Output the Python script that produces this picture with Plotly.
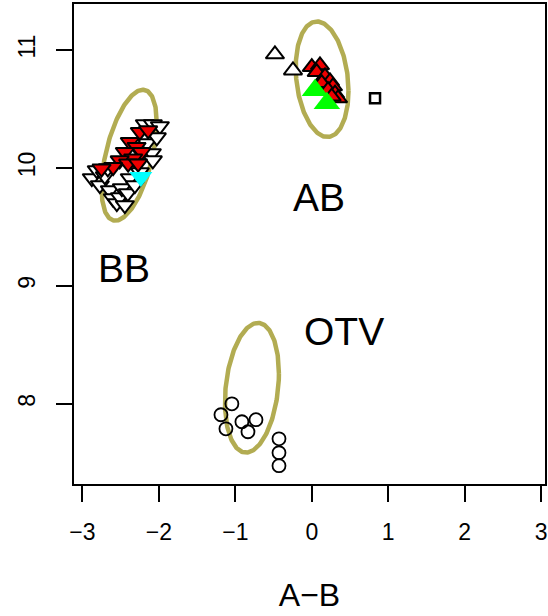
import numpy as np
import plotly.graph_objects as go

# ---- data ----
otv_x = [-1.045, -1.188, -1.123, -0.914, -0.730, -0.835, -0.429, -0.429, -0.429]
otv_y = [8.000, 7.907, 7.788, 7.848, 7.865, 7.763, 7.703, 7.585, 7.475]

ab_open_x = [-0.482, -0.246]
ab_open_y = [10.963, 10.827]
ab_red_x = [0.000, 0.107, 0.064, 0.173, 0.238, 0.277, 0.129, 0.212, 0.304, 0.343, 0.260]
ab_red_y = [10.855, 10.870, 10.813, 10.777, 10.734, 10.692, 10.720, 10.660, 10.630, 10.590, 10.605]
ab_green_x = [0.041, 0.197]
ab_green_y = [10.658, 10.548]
ab_square_x = [0.827]
ab_square_y = [10.590]

bb_open_x = [-2.877, -2.812, -2.772, -2.707, -2.641, -2.602, -2.550, -2.510, -2.484, -2.380, -2.406,
             -2.314, -2.183, -2.079, -1.987, -2.157, -2.027, -2.092, -2.079, -2.249, -2.668, -2.445]
bb_open_y = [9.913, 9.981, 9.854, 9.930, 9.811, 9.743, 9.701, 9.752, 9.828, 9.913, 9.786,
             9.854, 10.371, 10.371, 10.354, 10.209, 10.260, 10.125, 10.065, 9.964, 9.997, 9.684]
bb_red_x = [-2.249, -2.140, -2.380, -2.292, -2.226, -2.445, -2.336, -2.512, -2.402, -2.271, -2.598, -2.750]
bb_red_y = [10.305, 10.319, 10.220, 10.178, 10.135, 10.135, 10.080, 10.065, 10.037, 10.037, 10.008, 9.995]
bb_cyan_x = [-2.236]
bb_cyan_y = [9.924]

# ellipses: centre x, centre y, half-width x, half-height y, correlation
ell_names = ["BB", "AB", "OTV"]
ell_cx = [-2.389, 0.135, -0.783]
ell_cy = [10.108, 10.752, 8.136]
ell_rx = [0.361, 0.345, 0.353]
ell_ry = [0.555, 0.490, 0.550]
ell_r = [0.50, -0.20, 0.22]

label_text = ["BB", "AB", "OTV"]
label_x = [-2.458, 0.094, 0.420]
label_y = [9.151, 9.748, 8.617]

x_ticks = [-3, -2, -1, 0, 1, 2, 3]
y_ticks = [8, 9, 10, 11]

FONT = "Liberation Sans, Arial, sans-serif"
OLIVE = "#B2AC52"

fig = go.Figure()

t = np.linspace(0, 2 * np.pi, 240)
for cx, cy, rx, ry, r in zip(ell_cx, ell_cy, ell_rx, ell_ry, ell_r):
    fig.add_trace(go.Scatter(
        x=cx + rx * np.cos(t), y=cy + ry * np.cos(t - np.arccos(r)),
        mode="lines", line=dict(color=OLIVE, width=4.5), hoverinfo="skip"))

def pts(x, y, symbol, size, fill, lc="black", lw=2):
    fig.add_trace(go.Scatter(
        x=x, y=y, mode="markers", cliponaxis=False,
        marker=dict(symbol=symbol, size=size, color=fill,
                    line=dict(color=lc, width=lw))))

pts(otv_x, otv_y, "circle", 13, "rgba(0,0,0,0)", lw=1.8)
pts(bb_open_x, bb_open_y, "triangle-down", 16, "white")
pts(bb_red_x, bb_red_y, "triangle-down", 16, "#EE0000")
pts(bb_cyan_x, bb_cyan_y, "triangle-down", 20, "#00FFFF", lw=0)
pts(ab_open_x, ab_open_y, "triangle-up", 16, "white")
pts(ab_red_x, ab_red_y, "triangle-up", 16, "#EE0000")
pts(ab_green_x, ab_green_y, "triangle-up", 23, "#00FF00", lw=0)
pts(ab_square_x, ab_square_y, "square", 10, "white", lw=2.5)

for txt, x, y in zip(label_text, label_x, label_y):
    fig.add_annotation(x=x, y=y, text=txt, showarrow=False,
                       font=dict(family=FONT, size=39, color="black"),
                       xanchor="center", yanchor="middle")

axis_common = dict(showgrid=False, zeroline=False, showline=True, mirror=True,
                   linecolor="black", linewidth=2, ticks="outside", ticklen=16,
                   tickwidth=2, tickcolor="black", automargin=False,
                   tickfont=dict(family=FONT, size=23, color="black"))

fig.update_layout(
    width=548, height=616, showlegend=False,
    paper_bgcolor="white", plot_bgcolor="white",
    margin=dict(l=74, r=3, t=4, b=132),
    xaxis=dict(range=[-3.11, 3.05], tickvals=x_ticks, ticklabelstandoff=10,
               title=dict(text="A−B", font=dict(family=FONT, size=32, color="black"),
                          standoff=40),
               **axis_common),
    yaxis=dict(range=[7.32, 11.39], tickvals=y_ticks, tickangle=-90,
               ticklabelstandoff=12, **axis_common),
)

fig.write_html("out.html", config={"displayModeBar": False},
               post_script="document.body.style.margin='0';document.body.style.overflow='hidden';")
